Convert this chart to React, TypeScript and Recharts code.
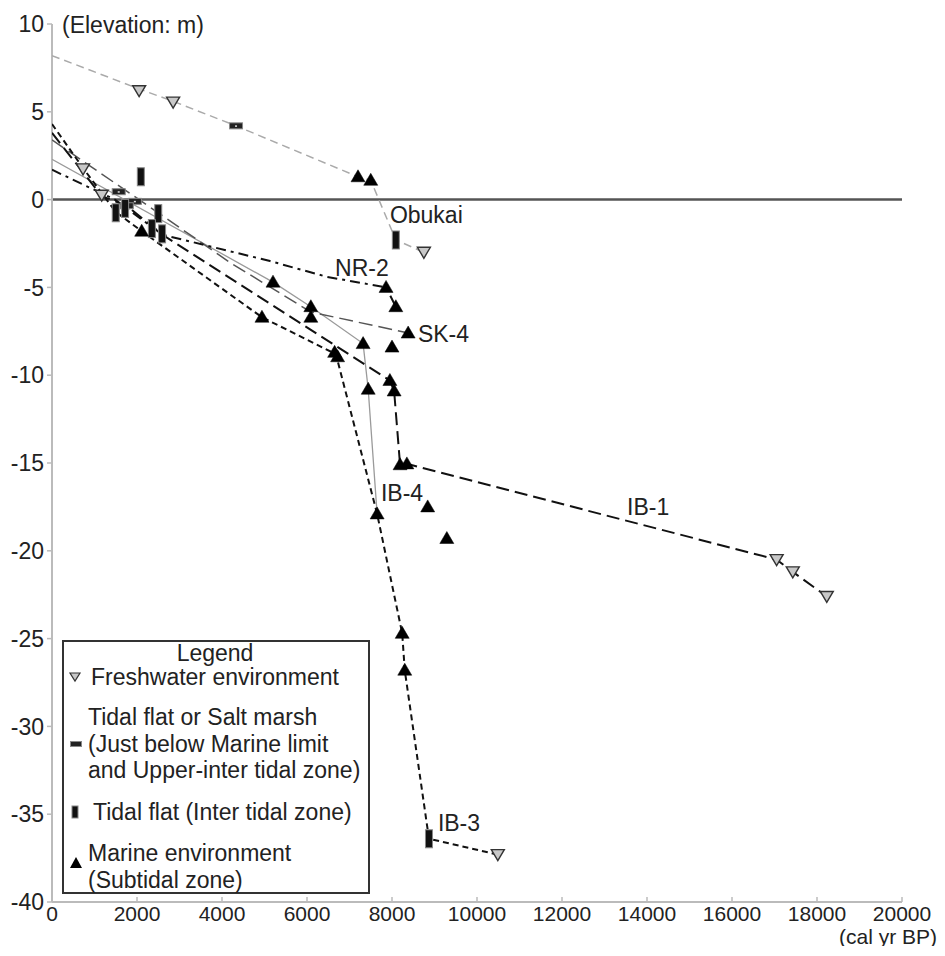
import React from 'react';
import { ScatterChart, Scatter, XAxis, YAxis, ReferenceLine, Legend, Label } from 'recharts';

const FONT = '"Liberation Sans", Arial, Helvetica, sans-serif';

const xTicks = [0, 2000, 4000, 6000, 8000, 10000, 12000, 14000, 16000, 18000, 20000];
const yTicks = [-40, -35, -30, -25, -20, -15, -10, -5, 0, 5, 10];
const xAxisTitle = '(cal yr BP)';
const yAxisTitle = '(Elevation: m)';

// Site correlation lines
const obukaiLine = [
  { x: 0, y: 8.2 }, { x: 2050, y: 6.3 }, { x: 2850, y: 5.6 }, { x: 4330, y: 4.2 },
  { x: 7200, y: 1.3 }, { x: 7500, y: 1.1 }, { x: 8090, y: -2.3 }, { x: 8750, y: -3.0 },
];
const nr2Line = [
  { x: 0, y: 1.7 }, { x: 1480, y: 0 }, { x: 2600, y: -2.0 }, { x: 5130, y: -3.5 },
  { x: 6470, y: -4.4 }, { x: 7860, y: -5.0 }, { x: 8090, y: -6.1 },
];
const sk4Line = [
  { x: 0, y: 3.4 }, { x: 2500, y: -0.75 }, { x: 4200, y: -3.6 }, { x: 6090, y: -6.4 }, { x: 8380, y: -7.6 },
];
const ib4Line = [
  { x: 0, y: 2.3 }, { x: 5200, y: -4.7 }, { x: 6090, y: -6.1 }, { x: 7320, y: -8.2 },
  { x: 7440, y: -10.8 }, { x: 7650, y: -17.9 },
];
const ib3Line = [
  { x: 0, y: 4.3 }, { x: 730, y: 1.8 }, { x: 1500, y: -0.7 }, { x: 2110, y: -1.8 },
  { x: 4940, y: -6.7 }, { x: 6680, y: -8.8 }, { x: 7650, y: -17.9 }, { x: 8240, y: -24.7 },
  { x: 8300, y: -26.8 }, { x: 8870, y: -36.4 }, { x: 10490, y: -37.3 },
];
const ib1Line = [
  { x: 0, y: 3.8 }, { x: 1170, y: 0.2 }, { x: 1760, y: -0.35 }, { x: 2600, y: -2.0 },
  { x: 7950, y: -10.3 }, { x: 8050, y: -10.9 }, { x: 8190, y: -15.1 }, { x: 8350, y: -15.05 },
  { x: 17050, y: -20.5 }, { x: 17430, y: -21.2 }, { x: 18230, y: -22.6 },
];

// Sample markers by environment
const freshwater = [
  { x: 730, y: 1.75 }, { x: 1170, y: 0.25 }, { x: 2050, y: 6.2 }, { x: 2850, y: 5.55 },
  { x: 8750, y: -3.0 }, { x: 10490, y: -37.3 }, { x: 17050, y: -20.5 }, { x: 17430, y: -21.2 },
  { x: 18230, y: -22.6 },
];
const saltMarsh = [
  { x: 4330, y: 4.2 }, { x: 1570, y: 0.45 }, { x: 1950, y: -0.1 }, { x: 1760, y: -0.35 },
];
const tidalFlat = [
  { x: 2090, y: 1.3 }, { x: 1500, y: -0.75 }, { x: 1720, y: -0.5 }, { x: 2500, y: -0.8 },
  { x: 2350, y: -1.65 }, { x: 2590, y: -1.95 }, { x: 8090, y: -2.3 }, { x: 8870, y: -36.4 },
];
const marine = [
  { x: 7200, y: 1.3 }, { x: 7500, y: 1.1 }, { x: 2110, y: -1.8 }, { x: 5200, y: -4.7 },
  { x: 7860, y: -5.0 }, { x: 8090, y: -6.1 }, { x: 6090, y: -6.1 }, { x: 6090, y: -6.7 },
  { x: 4940, y: -6.7 }, { x: 8380, y: -7.6 }, { x: 7320, y: -8.2 }, { x: 8000, y: -8.4 },
  { x: 6650, y: -8.7 }, { x: 6720, y: -8.95 }, { x: 7950, y: -10.3 }, { x: 8050, y: -10.9 },
  { x: 7440, y: -10.8 }, { x: 8190, y: -15.1 }, { x: 8350, y: -15.05 }, { x: 8840, y: -17.5 },
  { x: 7650, y: -17.9 }, { x: 9290, y: -19.3 }, { x: 8240, y: -24.7 }, { x: 8300, y: -26.8 },
];

const siteLabels = [
  { x: 7950, y: -0.85, text: 'Obukai' },
  { x: 6660, y: -3.9, text: 'NR-2' },
  { x: 8610, y: -7.65, text: 'SK-4' },
  { x: 7740, y: -16.7, text: 'IB-4' },
  { x: 13530, y: -17.5, text: 'IB-1' },
  { x: 9080, y: -35.5, text: 'IB-3' },
];

const legendTitle = 'Legend';
const legendFreshwater = 'Freshwater environment';
const legendSaltMarsh = ['Tidal flat or Salt marsh', '(Just below Marine limit', 'and Upper-inter tidal zone)'];
const legendTidalFlat = 'Tidal flat (Inter tidal zone)';
const legendMarine = ['Marine environment', '(Subtidal zone)'];

const Empty = () => <g />;

const DownTri = (p: any) => {
  const { cx, cy } = p;
  if (cx == null || cy == null) return <g />;
  return <path d={`M${cx - 6.5},${cy - 5} L${cx + 6.5},${cy - 5} L${cx},${cy + 6} Z`} fill="#c8c8c8" stroke="#333" strokeWidth={1.4} />;
};
const UpTri = (p: any) => {
  const { cx, cy } = p;
  if (cx == null || cy == null) return <g />;
  return <path d={`M${cx},${cy - 7} L${cx + 7},${cy + 5} L${cx - 7},${cy + 5} Z`} fill="#000" stroke="#000" strokeWidth={0.5} />;
};
const VRect = (p: any) => {
  const { cx, cy } = p;
  if (cx == null || cy == null) return <g />;
  return <rect x={cx - 3.5} y={cy - 9} width={7} height={18} fill="#111" stroke="#888" strokeWidth={1} />;
};
const HRect = (p: any) => {
  const { cx, cy } = p;
  if (cx == null || cy == null) return <g />;
  return (
    <g>
      <rect x={cx - 6.5} y={cy - 3} width={13} height={6} fill="#222" stroke="#888" strokeWidth={1} />
      <rect x={cx - 1} y={cy - 0.5} width={2} height={1.5} fill="#ddd" />
    </g>
  );
};
const TextMark = (p: any) => {
  const { cx, cy, payload } = p;
  if (cx == null || cy == null) return <g />;
  return (
    <text x={cx} y={cy} dy="0.35em" textAnchor="start" fontSize={23} fill="#222" fontFamily={FONT}>
      {payload && payload.text}
    </text>
  );
};

const XTick = (p: any) => {
  const { x, y, payload } = p;
  return (
    <g>
      <line x1={x} x2={x} y1={y - 4} y2={y - 9} stroke="#bbb" strokeWidth={1.5} />
      <text x={x} y={y} dy="0.72em" textAnchor="middle" fontSize={21} fill="#222" fontFamily={FONT}>
        {payload.value}
      </text>
    </g>
  );
};

const LegendBox = () => {
  const t = { fontSize: 23, fill: '#222', fontFamily: FONT, dominantBaseline: 'central' as const };
  return (
    <svg width={308} height={254} style={{ display: 'block' }}>
      <rect x={1} y={1} width={306} height={252} fill="#fff" stroke="#333" strokeWidth={2} />
      <text x={153} y={13} textAnchor="middle" {...t}>{legendTitle}</text>
      <path d="M8,33 L18,33 L13,41 Z" fill="#c8c8c8" stroke="#333" strokeWidth={1.2} />
      <text x={29} y={37} {...t}>{legendFreshwater}</text>
      {legendSaltMarsh.map((s, i) => (
        <text key={s} x={26} y={77 + i * 26.5} {...t}>{s}</text>
      ))}
      <rect x={8.5} y={101.5} width={11} height={5} fill="#222" stroke="#888" strokeWidth={1} />
      <rect x={10} y={166} width={6} height={12} fill="#111" stroke="#888" strokeWidth={1} />
      <text x={31} y={172} {...t}>{legendTidalFlat}</text>
      {legendMarine.map((s, i) => (
        <text key={s} x={26} y={213 + i * 27} {...t}>{s}</text>
      ))}
      <path d="M14,217 L20,228 L8,228 Z" fill="#000" />
    </svg>
  );
};

const ElevLabel = (p: any) => {
  const vb = p.viewBox || { x: 4, y: 16, width: 40, height: 878 };
  return (
    <text x={vb.x + vb.width + 10} y={vb.y + 1} dy="0.35em" fontSize={23} fill="#222" fontFamily={FONT}>
      {yAxisTitle}
    </text>
  );
};

export default function App() {
  return (
    <div style={{ position: 'relative', width: 929, height: 938, background: '#fff' }}>
      <ScatterChart width={929} height={938} margin={{ top: 16, right: 35, bottom: 14, left: 4 }}>
        <XAxis
          type="number"
          dataKey="x"
          domain={[0, 20000]}
          ticks={xTicks}
          allowDataOverflow
          height={30}
          axisLine={{ stroke: '#bbb', strokeWidth: 2 }}
          tickLine={false}
          tickSize={0}
          tickMargin={4}
          tick={<XTick />}
          interval={0}
        />
        <YAxis
          type="number"
          dataKey="y"
          domain={[-40, 10]}
          ticks={yTicks}
          width={40}
          interval={0}
          axisLine={{ stroke: '#bbb', strokeWidth: 2 }}
          tickLine={{ stroke: '#bbb', strokeWidth: 1.5 }}
          tickSize={5}
          tickMargin={3}
          tick={{ fontSize: 23, fill: '#222', fontFamily: FONT }}
        >
          <Label content={<ElevLabel />} />
        </YAxis>
        <ReferenceLine y={0} stroke="#555" strokeWidth={2.5} />

        <Scatter data={obukaiLine} fill="#aaa" shape={<Empty />} isAnimationActive={false}
          line={{ stroke: '#aaa', strokeWidth: 1.5, strokeDasharray: '8 5' }} />
        <Scatter data={ib4Line} fill="#999" shape={<Empty />} isAnimationActive={false}
          line={{ stroke: '#9a9a9a', strokeWidth: 1.3 }} />
        <Scatter data={sk4Line} fill="#555" shape={<Empty />} isAnimationActive={false}
          line={{ stroke: '#555', strokeWidth: 1.5, strokeDasharray: '14 6' }} />
        <Scatter data={nr2Line} fill="#111" shape={<Empty />} isAnimationActive={false}
          line={{ stroke: '#111', strokeWidth: 2, strokeDasharray: '10 5 3 5' }} />
        <Scatter data={ib3Line} fill="#111" shape={<Empty />} isAnimationActive={false}
          line={{ stroke: '#111', strokeWidth: 2, strokeDasharray: '6 4' }} />
        <Scatter data={ib1Line} fill="#111" shape={<Empty />} isAnimationActive={false}
          line={{ stroke: '#111', strokeWidth: 2, strokeDasharray: '13 6' }} />

        <Scatter data={saltMarsh} fill="#222" shape={<HRect />} isAnimationActive={false} />
        <Scatter data={tidalFlat} fill="#111" shape={<VRect />} isAnimationActive={false} />
        <Scatter data={freshwater} fill="#ccc" shape={<DownTri />} isAnimationActive={false} />
        <Scatter data={marine} fill="#000" shape={<UpTri />} isAnimationActive={false} />
        <Scatter data={siteLabels} fill="#222" shape={<TextMark />} isAnimationActive={false} />

        <Legend
          layout="vertical"
          align="center"
          verticalAlign="middle"
          content={<LegendBox />}
          wrapperStyle={{ left: 54, top: 632, width: 308, height: 254 }}
        />
      </ScatterChart>
      <div
        style={{
          position: 'absolute',
          right: 0,
          top: 917,
          fontFamily: FONT,
          fontSize: 21,
          lineHeight: '23px',
          color: '#222',
          whiteSpace: 'nowrap',
        }}
      >
        {xAxisTitle}
      </div>
    </div>
  );
}
